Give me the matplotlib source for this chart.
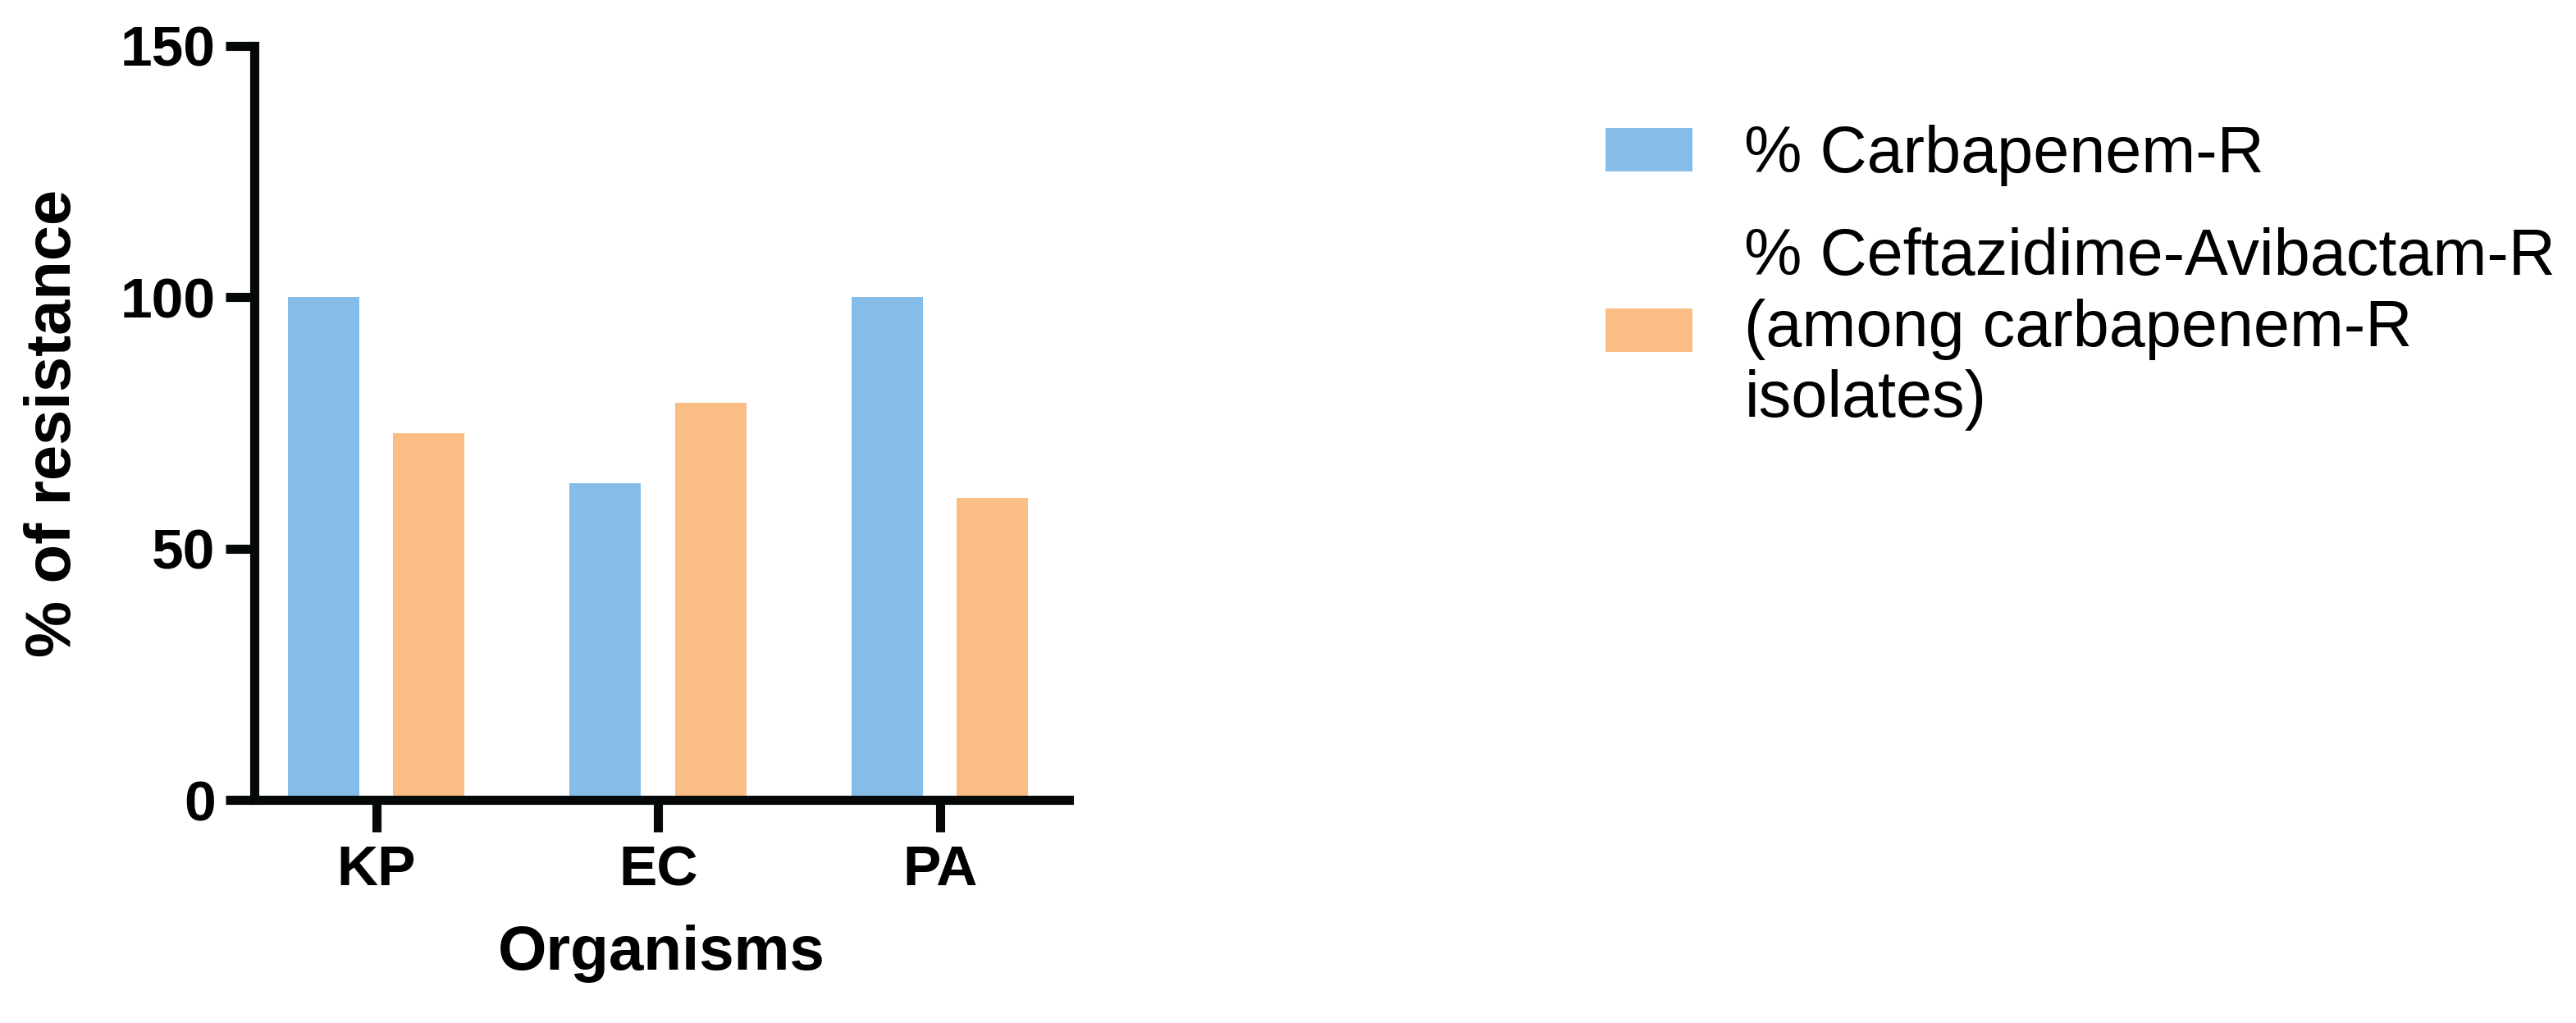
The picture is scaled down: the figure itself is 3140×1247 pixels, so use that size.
import matplotlib.pyplot as plt
import numpy as np

organisms = ['KP', 'EC', 'PA']
carbapenem_r = [100, 63, 100]
caz_avi_r = [73, 79, 60]
series_labels = ['% Carbapenem-R',
                 '% Ceftazidime-Avibactam-R\n(among carbapenem-R\nisolates)']
colors = ['#85BDE8', '#FABE85']

plt.rcParams['font.family'] = ['Liberation Sans', 'DejaVu Sans']
ink = '#050808'

fig = plt.figure(figsize=(31.4, 12.47), dpi=100)
ax = fig.add_axes([0.0987, 0.2181, 0.3162, 0.737])

x = np.arange(len(organisms))
w = 0.254
ax.bar(x - 0.188, carbapenem_r, w, color=colors[0], label=series_labels[0])
ax.bar(x + 0.186, caz_avi_r, w, color=colors[1], label=series_labels[1])

ax.set_xlim(-0.434, 2.457)
ax.set_ylim(0, 150)
ax.set_yticks([0, 50, 100, 150])
ax.set_xticks(x)
ax.set_xticklabels(organisms)

for s in ['top', 'right']:
    ax.spines[s].set_visible(False)
for s in ['left', 'bottom']:
    ax.spines[s].set_linewidth(8)
    ax.spines[s].set_color(ink)
    ax.spines[s].set_capstyle('projecting')
ax.tick_params(axis='y', length=25, width=8, color=ink, pad=9, labelsize=50)
ax.tick_params(axis='x', length=28, width=8, color=ink, pad=11, labelsize=50)
for lab in ax.get_xticklabels() + ax.get_yticklabels():
    lab.set_fontweight('bold')

ax.set_xlabel('Organisms', fontsize=55, fontweight='bold', labelpad=24)
ax.set_ylabel('% of resistance', fontsize=56, fontweight='bold')
ax.yaxis.set_label_coords(-0.2095, 0.5)

leg = fig.legend(loc='upper left', bbox_to_anchor=(0.6232, 0.878), frameon=False,
                 borderpad=0, borderaxespad=0, handlelength=1.34, handleheight=0.65,
                 handletextpad=0.8, labelspacing=0.63, fontsize=57)

fig.savefig('out.png', dpi=100)
